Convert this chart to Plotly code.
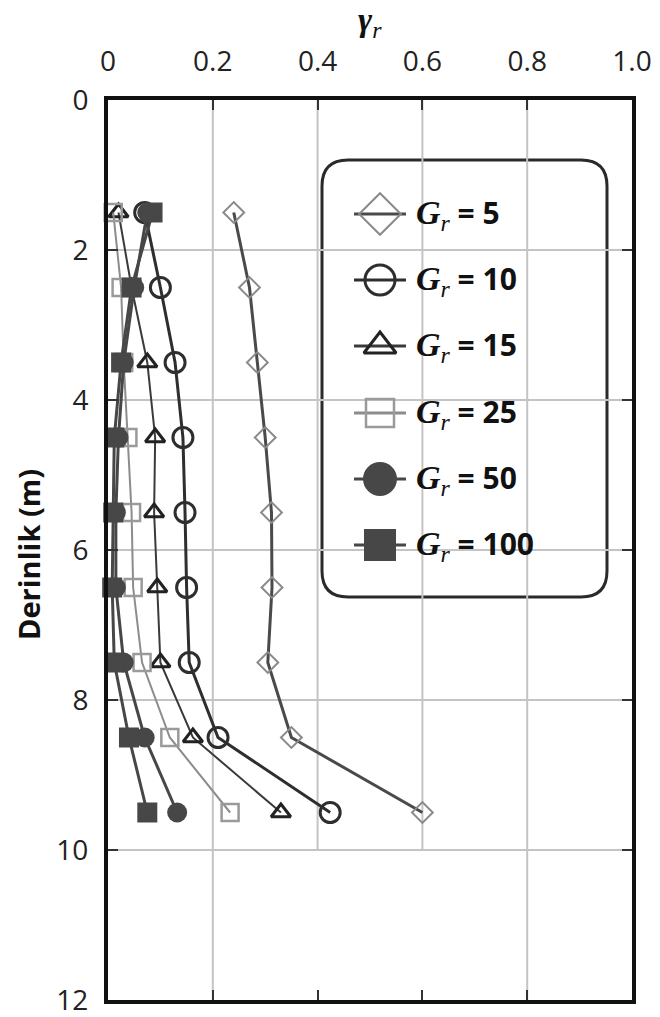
import plotly.graph_objects as go

# Depth of each measurement (m)
depth = [1.5, 2.5, 3.5, 4.5, 5.5, 6.5, 7.5, 8.5, 9.5]

# gamma_r profiles for each G_r value
gr5 = [0.24, 0.27, 0.285, 0.30, 0.312, 0.313, 0.305, 0.35, 0.60]
gr10 = [0.07, 0.10, 0.128, 0.143, 0.147, 0.15, 0.155, 0.21, 0.424]
gr15 = [0.02, 0.045, 0.075, 0.09, 0.088, 0.094, 0.10, 0.162, 0.33]
gr25 = [0.01, 0.025, 0.03, 0.038, 0.045, 0.048, 0.065, 0.118, 0.233]
gr50 = [0.075, 0.05, 0.03, 0.02, 0.015, 0.015, 0.03, 0.07, 0.132]
gr100 = [0.085, 0.045, 0.025, 0.012, 0.01, 0.008, 0.012, 0.04, 0.075]

series_labels = ["5", "10", "15", "25", "50", "100"]
x_ticks = [0, 0.2, 0.4, 0.6, 0.8, 1.0]
x_ticktext = ["0", "0.2", "0.4", "0.6", "0.8", "1.0"]
y_ticks = [0, 2, 4, 6, 8, 10, 12]

W, H = 660, 1017
L, R, T, B = 108, 632, 100, 1000  # plot area in pixels


def px(x):
    return (x - L) / (R - L)


def py(y):
    return (B - y) / (B - T)


styles = [
    dict(line=dict(color="#4a4a4a", width=3),
         marker=dict(symbol="diamond-open", size=16, color="#8a8a8a", line=dict(width=2))),
    dict(line=dict(color="#2e2e2e", width=3),
         marker=dict(symbol="circle-open", size=20, color="#2e2e2e", line=dict(width=3))),
    dict(line=dict(color="#3a3a3a", width=2),
         marker=dict(symbol="triangle-up-open", size=17, color="#222222", line=dict(width=3))),
    dict(line=dict(color="#8c8c8c", width=2),
         marker=dict(symbol="square-open", size=17, color="#9a9a9a", line=dict(width=2.5))),
    dict(line=dict(color="#474747", width=3),
         marker=dict(symbol="circle", size=20, color="#474747", line=dict(width=0))),
    dict(line=dict(color="#474747", width=3),
         marker=dict(symbol="square", size=20, color="#474747", line=dict(width=0))),
]
profiles = [gr5, gr10, gr15, gr25, gr50, gr100]

fig = go.Figure()
for vals, st, lab in zip(profiles, styles, series_labels):
    fig.add_trace(go.Scatter(
        x=vals, y=depth, mode="lines+markers", name="Gr = " + lab,
        line=st["line"], marker=st["marker"], cliponaxis=False,
        showlegend=False, hoverinfo="skip",
    ))

# Legend keys drawn on an overlay axis spanning the plot area (paper fractions)
row_y = [214, 280, 346, 413, 479, 545]
key_x0, key_xm, key_x1, text_x = 354, 380, 406, 414
key_sizes = [32, 30, 28, 28, 34, 32]
for st, ry, ks in zip(styles, row_y, key_sizes):
    fig.add_trace(go.Scatter(
        x=[px(key_x0), px(key_x1)], y=[py(ry), py(ry)], mode="lines",
        line=dict(color=st["line"]["color"], width=3), xaxis="x2", yaxis="y2",
        showlegend=False, hoverinfo="skip",
    ))
    mk = dict(st["marker"])
    mk["size"] = ks
    fig.add_trace(go.Scatter(
        x=[px(key_xm)], y=[py(ry)], mode="markers", marker=mk,
        xaxis="x2", yaxis="y2", showlegend=False, hoverinfo="skip",
    ))

shapes = []
grid_color = "#c4c4c4"
# vertical grid lines
for xv, ytop in [(0.2, 12), (0.4, 10), (0.6, 10), (0.8, 12)]:
    shapes.append(dict(type="line", xref="x", yref="y", x0=xv, x1=xv, y0=0, y1=ytop,
                       line=dict(color=grid_color, width=2), layer="below"))
# horizontal grid lines
for yv in [2, 4, 6, 8, 10]:
    shapes.append(dict(type="line", xref="x", yref="y", x0=0, x1=1, y0=yv, y1=yv,
                       line=dict(color=grid_color, width=2), layer="below"))

# rounded legend frame
bx0, by0, bx1, by1, rr = 322, 160, 607, 597, 26
path = (
    f"M {px(bx0 + rr)},{py(by0)} L {px(bx1 - rr)},{py(by0)} "
    f"Q {px(bx1)},{py(by0)} {px(bx1)},{py(by0 + rr)} "
    f"L {px(bx1)},{py(by1 - rr)} Q {px(bx1)},{py(by1)} {px(bx1 - rr)},{py(by1)} "
    f"L {px(bx0 + rr)},{py(by1)} Q {px(bx0)},{py(by1)} {px(bx0)},{py(by1 - rr)} "
    f"L {px(bx0)},{py(by0 + rr)} Q {px(bx0)},{py(by0)} {px(bx0 + rr)},{py(by0)} Z"
)
shapes.append(dict(type="path", xref="paper", yref="paper", path=path,
                   line=dict(color="#2a2a2a", width=3), fillcolor="white", layer="between"))

annotations = []
for lab, ry in zip(series_labels, row_y):
    annotations.append(dict(
        x=px(text_x), y=py(ry), xref="paper", yref="paper", xanchor="left", yanchor="middle",
        showarrow=False,
        text=("<span style='font-family:Liberation Serif;font-size:34px'><b><i>G</i></b>"
              "<sub><i>r</i></sub></span><b> = " + lab + "</b>"),
        font=dict(family="Open Sans", size=30, color="#111111"),
    ))

# top axis title
annotations.append(dict(
    x=0.5, y=py(22), xref="paper", yref="paper", xanchor="center", yanchor="middle",
    showarrow=False,
    text="<b><i>γ</i></b><sub><i>r</i></sub>",
    font=dict(family="Liberation Serif", size=34, color="#111111"),
))
# depth axis title
annotations.append(dict(
    x=px(28), y=py(555), xref="paper", yref="paper", xanchor="center", yanchor="middle",
    showarrow=False, textangle=-90,
    text="<b>Derinlik (m)</b>",
    font=dict(family="Open Sans", size=29, color="#111111"),
))

fig.update_layout(
    width=W, height=H,
    margin=dict(l=L, r=W - R, t=T, b=H - B, pad=0, autoexpand=False),
    paper_bgcolor="white", plot_bgcolor="white",
    shapes=shapes, annotations=annotations,
    xaxis=dict(
        range=[0, 1], side="top", tickvals=x_ticks, ticktext=x_ticktext,
        showgrid=False, zeroline=False, showline=True, linecolor="#111111", linewidth=4,
        mirror="ticks", ticks="inside", ticklen=10, tickwidth=2, tickcolor="#333333",
        tickfont=dict(family="Open Sans", size=28, color="#222222"),
        ticklabelstandoff=14, ticklabeloverflow="allow", automargin=False,
    ),
    yaxis=dict(
        range=[12, 0], tickvals=y_ticks,
        showgrid=False, zeroline=False, showline=True, linecolor="#111111", linewidth=4,
        mirror="ticks", ticks="inside", ticklen=10, tickwidth=2, tickcolor="#333333",
        tickfont=dict(family="Open Sans", size=28, color="#222222"),
        ticklabelstandoff=10, ticklabeloverflow="allow", automargin=False,
    ),
    xaxis2=dict(range=[0, 1], overlaying="x", visible=False),
    yaxis2=dict(range=[0, 1], overlaying="y", visible=False),
)

fig.write_html("out.html")
